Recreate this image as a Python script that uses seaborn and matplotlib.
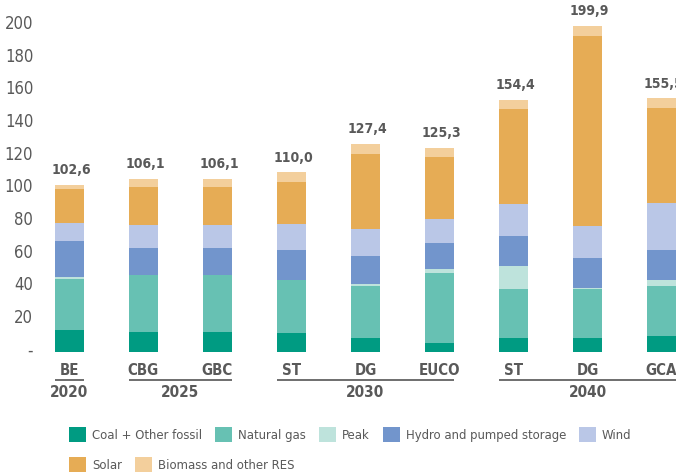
import numpy as np
import pandas as pd
import seaborn as sns
import matplotlib
matplotlib.use("Agg")
import matplotlib.pyplot as plt
from matplotlib.patches import Patch
from matplotlib.transforms import ScaledTranslation, blended_transform_factory

# --- data (TWh) ---
scenarios = ["BE", "CBG", "GBC", "ST", "DG", "EUCO", "ST", "DG", "GCA"]
year_groups = [("2020", 0, 0), ("2025", 1, 2), ("2030", 3, 5), ("2040", 6, 8)]

coal = [13.5, 12.3, 12.3, 11.6, 8.3, 5.8, 8.3, 8.3, 10.1]
natural_gas = [31.2, 34.9, 34.9, 32.5, 32.4, 42.9, 30.6, 30.6, 30.6]
peak = [1.3, 0.0, 0.0, 0.0, 0.7, 1.9, 14.1, 0.6, 3.7]
hydro = [22.0, 16.5, 16.5, 18.4, 17.7, 15.9, 17.8, 18.4, 17.8]
wind = [11.0, 14.1, 14.1, 15.9, 16.0, 15.3, 19.6, 19.0, 29.4]
solar = [20.9, 23.3, 23.3, 25.8, 46.5, 37.4, 58.8, 117.0, 58.2]
biomass = [2.7, 5.0, 5.0, 5.8, 5.8, 6.1, 5.2, 6.0, 5.7]

series_names = ["Coal + Other fossil", "Natural gas", "Peak",
                "Hydro and pumped storage", "Wind", "Solar",
                "Biomass and other RES"]
series_values = [coal, natural_gas, peak, hydro, wind, solar, biomass]
series_colors = ["#009B82", "#67C1B3", "#BEE3DC", "#7295CC",
                 "#BAC7E7", "#E6AC55", "#F3CF9C"]

y_ticks = [0, 20, 40, 60, 80, 100, 120, 140, 160, 180, 200]

# --- style ---
sns.set_style("white")
plt.rcParams["font.family"] = ["DejaVu Sans"]
plt.rcParams["font.stretch"] = "condensed"
TXT = "#595959"

fig = plt.figure(figsize=(6.76, 4.76), dpi=100)
ax = fig.add_axes([36 / 676, 124 / 476, 640 / 676, 334.56 / 476])

slots = [str(i) for i in range(len(scenarios))]
vals = np.array(series_values)
cum = np.cumsum(vals, axis=0)

# stacked bars: draw cumulative heights from the top layer downwards
for k in range(len(series_names) - 1, -1, -1):
    df = pd.DataFrame({"slot": slots, "value": cum[k]})
    sns.barplot(data=df, x="slot", y="value", order=slots, color=series_colors[k],
                saturation=1, width=0.4, linewidth=0, edgecolor="none", ax=ax)

ax.set_xlim(-0.4527, 8.196)
ax.set_ylim(0, 205)
for s in ax.spines.values():
    s.set_visible(False)
ax.grid(False)
ax.set_xlabel("")
ax.set_ylabel("")

# y axis labels
ax.set_yticks(y_ticks)
ax.set_yticklabels(["-" if v == 0 else str(v) for v in y_ticks])
ax.tick_params(axis="y", length=0, pad=2, labelsize=12, labelcolor=TXT)
shift = ScaledTranslation(0, 3.5 / 100, fig.dpi_scale_trans)
for lab in ax.get_yticklabels():
    lab.set_transform(lab.get_transform() + shift)

# scenario labels
ax.set_xticks(range(len(scenarios)))
ax.set_xticklabels(scenarios, fontweight="bold")
ax.tick_params(axis="x", length=0, pad=8, labelsize=10.8, labelcolor=TXT)

# totals above bars
totals = cum[-1]
for i, t in enumerate(totals):
    ax.annotate(f"{t:.1f}".replace(".", ","), xy=(i, t), xytext=(1.5, 5.5),
                textcoords="offset points", ha="center", va="bottom",
                fontsize=10, fontweight="bold", color=TXT, annotation_clip=False)

# year grouping lines and labels
trans = blended_transform_factory(ax.transData, fig.transFigure)
for year, a, b in year_groups:
    ax.plot([a - 0.2, b + 0.2], [96 / 476, 96 / 476], transform=trans,
            color="#555555", lw=1.2, clip_on=False, solid_capstyle="butt")
    ax.text((a + b) / 2, 91 / 476, year, transform=trans, ha="center", va="top",
            fontsize=11, fontweight="bold", color=TXT)

# legend in two rows
handles = [Patch(facecolor=c, edgecolor="none") for c in series_colors]
lfs = 9.4
px = lfs * 100 / 72
common = dict(frameon=False, borderpad=0, borderaxespad=0, fontsize=lfs,
              handlelength=17 / px, handleheight=17 / px, handletextpad=6 / px,
              columnspacing=13 / px, labelcolor=TXT, loc="center left")
fig.legend(handles[:5], series_names[:5], ncol=5,
           bbox_to_anchor=(69 / 676, 41.5 / 476), **common)
fig.legend(handles[5:], series_names[5:], ncol=2,
           bbox_to_anchor=(69 / 676, 11.5 / 476), **common)

fig.savefig("out.png", dpi=100)
